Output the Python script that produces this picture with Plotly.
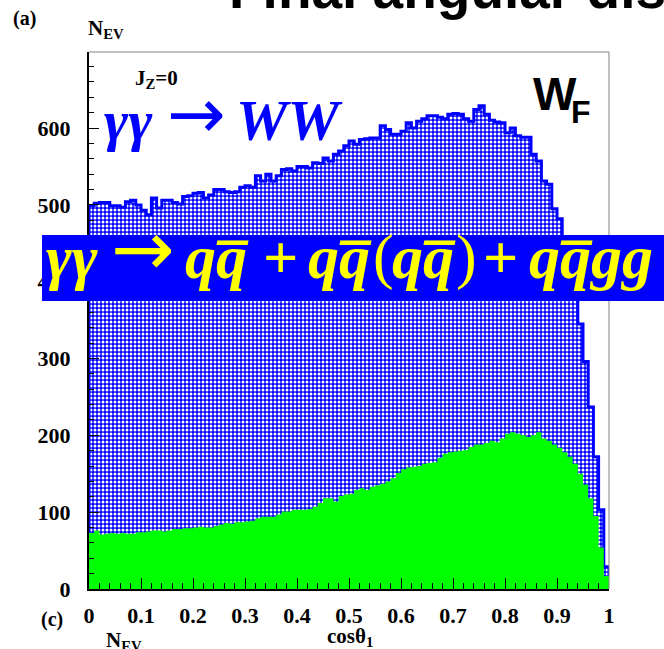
import plotly.graph_objects as go

# 100 bins of width 0.01 in cos(theta_1), from 0 to 1
BIN_LEFT = [round(i * 0.01, 2) for i in range(100)]

# gamma gamma -> WW events per bin (hatched histogram)
WW_COUNTS = [
    499, 502, 503, 503, 499, 499, 497, 504, 506, 500,
    493, 487, 509, 496, 506, 506, 503, 501, 511, 512,
    515, 516, 509, 513, 520, 520, 517, 516, 517, 523,
    525, 523, 538, 531, 540, 531, 538, 546, 547, 544,
    550, 550, 548, 555, 554, 561, 557, 566, 570, 577,
    583, 579, 585, 586, 587, 587, 603, 598, 592, 592,
    596, 607, 600, 609, 612, 616, 616, 614, 612, 618,
    619, 618, 612, 609, 624, 629, 618, 610, 608, 607,
    594, 600, 590, 588, 588, 566, 557, 531, 527, 495,
    482, 448, 415, 385, 345, 296, 237, 172, 103, 29,
]

# gamma gamma -> q qbar (+ q qbar g g) events per bin (solid green)
QQ_COUNTS = [
    73, 76, 71, 72, 73, 72, 73, 72, 72, 74,
    74, 75, 76, 76, 75, 76, 78, 78, 79, 79,
    80, 81, 80, 80, 82, 84, 86, 85, 87, 87,
    88, 89, 92, 94, 94, 94, 97, 101, 101, 103,
    103, 103, 104, 107, 112, 118, 118, 114, 121, 123,
    124, 129, 131, 129, 133, 135, 137, 140, 144, 151,
    156, 158, 159, 160, 163, 164, 165, 171, 176, 178,
    179, 180, 181, 185, 188, 188, 190, 193, 191, 196,
    202, 204, 202, 200, 198, 200, 204, 196, 193, 188,
    184, 178, 172, 163, 150, 136, 118, 95, 54, 17,
]

X_TICKS = [0, 0.1, 0.2, 0.3, 0.4, 0.5, 0.6, 0.7, 0.8, 0.9, 1]
X_TICK_LABELS = ["0", "0.1", "0.2", "0.3", "0.4", "0.5", "0.6", "0.7", "0.8", "0.9", "1"]
Y_TICKS = [0, 100, 200, 300, 400, 500, 600]
Y_TICK_LABELS = ["0", "100", "200", "300", "400", "500", "600"]

SERIF = "Liberation Serif"
SANS = "Liberation Sans"
DEJAVU = "DejaVu Sans"
BLUE = "#0000ff"
GREEN = "#00ff00"
YELLOW = "#ffff00"

W, H = 664, 649
L, R, T, B = 89, 609, 52, 589  # plot area in pixels


def px(x):
    return (x - L) / (R - L)


def py(y):
    return (B - y) / (B - T)


def step_path(counts):
    # closed step outline: up from zero at x=0, across every bin, down to zero at x=1
    xs = [0.0] + BIN_LEFT + [1.0]
    ys = [0] + list(counts) + [0]
    return xs, ys


fig = go.Figure()

# blue mesh: white dots on a blue ground
xs, ys = step_path(WW_COUNTS)
fig.add_trace(go.Scatter(
    x=xs, y=ys, mode="lines", line=dict(shape="hv", color=BLUE, width=3),
    fill="tozeroy", fillcolor=BLUE,
    fillpattern=dict(shape=".", fgcolor="white", bgcolor=BLUE, fgopacity=1,
                     size=4, solidity=0.45),
    hoverinfo="skip", showlegend=False,
))

xs, ys = step_path(QQ_COUNTS)
fig.add_trace(go.Scatter(
    x=xs, y=ys, mode="lines", line=dict(shape="hv", color=GREEN, width=0),
    fill="tozeroy", fillcolor=GREEN,
    hoverinfo="skip", showlegend=False,
))

tickfont = dict(family=SERIF, size=22, color="black", weight="bold")

fig.update_xaxes(
    range=[0, 1], tickvals=X_TICKS, ticktext=X_TICK_LABELS,
    ticks="inside", ticklen=11, tickwidth=1, tickcolor="black",
    minor=dict(dtick=0.02, tick0=0, ticks="inside", ticklen=6, tickwidth=1, tickcolor="black"),
    showline=True, linecolor="black", linewidth=2,
    showgrid=False, zeroline=False, tickfont=tickfont, ticklabelstandoff=6,
)
fig.update_yaxes(
    range=[0, 699], tickvals=Y_TICKS, ticktext=Y_TICK_LABELS,
    ticks="inside", ticklen=10, tickwidth=1, tickcolor="black",
    minor=dict(dtick=20, tick0=0, ticks="inside", ticklen=5, tickwidth=1, tickcolor="black"),
    showline=True, linecolor="black", linewidth=2,
    showgrid=False, zeroline=False, tickfont=tickfont, ticklabelstandoff=12,
)

# thin grey top and right edges of the frame
shapes = [
    dict(type="line", xref="paper", yref="paper", x0=0, x1=1, y0=1, y1=1,
         line=dict(color="#808080", width=1), layer="above"),
    dict(type="line", xref="paper", yref="paper", x0=1, x1=1, y0=0, y1=1,
         line=dict(color="#808080", width=1), layer="above"),
    # blue banner behind the q qbar process label
    dict(type="rect", xref="paper", yref="paper", x0=px(42), x1=px(670),
         y0=py(301), y1=py(235), fillcolor=BLUE, line=dict(width=0), layer="above"),
]

DESC = {SERIF: 0.216, SANS: 0.212, DEJAVU: 0.236}


def label(text, x, baseline, size, family=SERIF, color="black", xanchor="left", weight="bold"):
    # place text so that its baseline sits at the given pixel row
    bottom = baseline + DESC[family] * size + 1
    return dict(
        text=text, xref="paper", yref="paper", x=px(x), y=py(bottom),
        xanchor=xanchor, yanchor="bottom", showarrow=False,
        font=dict(family=family, size=size, color=color, weight=weight),
        borderpad=0,
    )


QBAR = "q\u0305"  # q with combining overline
BAN = 278   # banner text baseline
BS = 62     # banner text size

annotations = [
    label("Final angular distributions", 228, 8, 55, family=SANS),
    label("(a)", 12, 26, 20),
    label("N<sub>EV</sub>", 87, 37, 21),
    label("J<sub>Z</sub>=0", 134, 87, 21),
    label("<i>γγ</i>", 103, 140, 58, color=BLUE),
    label("→", 166, 138, 70, family=DEJAVU, color=BLUE, weight="normal"),
    label("<i>WW</i>", 235, 140, 58, color=BLUE),
    label("W", 532, 110, 46, family=SANS),
    label("F", 570, 123, 32, family=SANS),
    # gamma gamma -> q qbar + q qbar (q qbar) + q qbar g g
    label("<i>γγ</i>", 45, BAN, BS, color=YELLOW),
    label("→", 110, BAN - 3, 76, family=DEJAVU, color=YELLOW, weight="normal"),
    label("<i>q" + QBAR + "</i>", 184, BAN, BS, color=YELLOW),
    label("+", 262, BAN, BS, color=YELLOW),
    label("<i>q" + QBAR + "</i>", 307, BAN, BS, color=YELLOW),
    label("(", 372, BAN, BS, color=YELLOW, weight="normal"),
    label("<i>q" + QBAR + "</i>", 391, BAN, BS, color=YELLOW),
    label(")", 455, BAN, BS, color=YELLOW, weight="normal"),
    label("+", 482, BAN, BS, color=YELLOW),
    label("<i>q" + QBAR + "gg</i>", 528, BAN, BS, color=YELLOW),
    label("(c)", 40, 627, 20),
    label("N<sub>EV</sub>", 105, 649, 21),
    label("cosθ<sub>1</sub>", 350, 645, 21, xanchor="center"),
]

fig.update_layout(
    width=W, height=H,
    margin=dict(l=L, r=W - R, t=T, b=H - B, pad=0),
    paper_bgcolor="white", plot_bgcolor="white",
    showlegend=False,
    shapes=shapes, annotations=annotations,
)

fig.write_html("out.html")
